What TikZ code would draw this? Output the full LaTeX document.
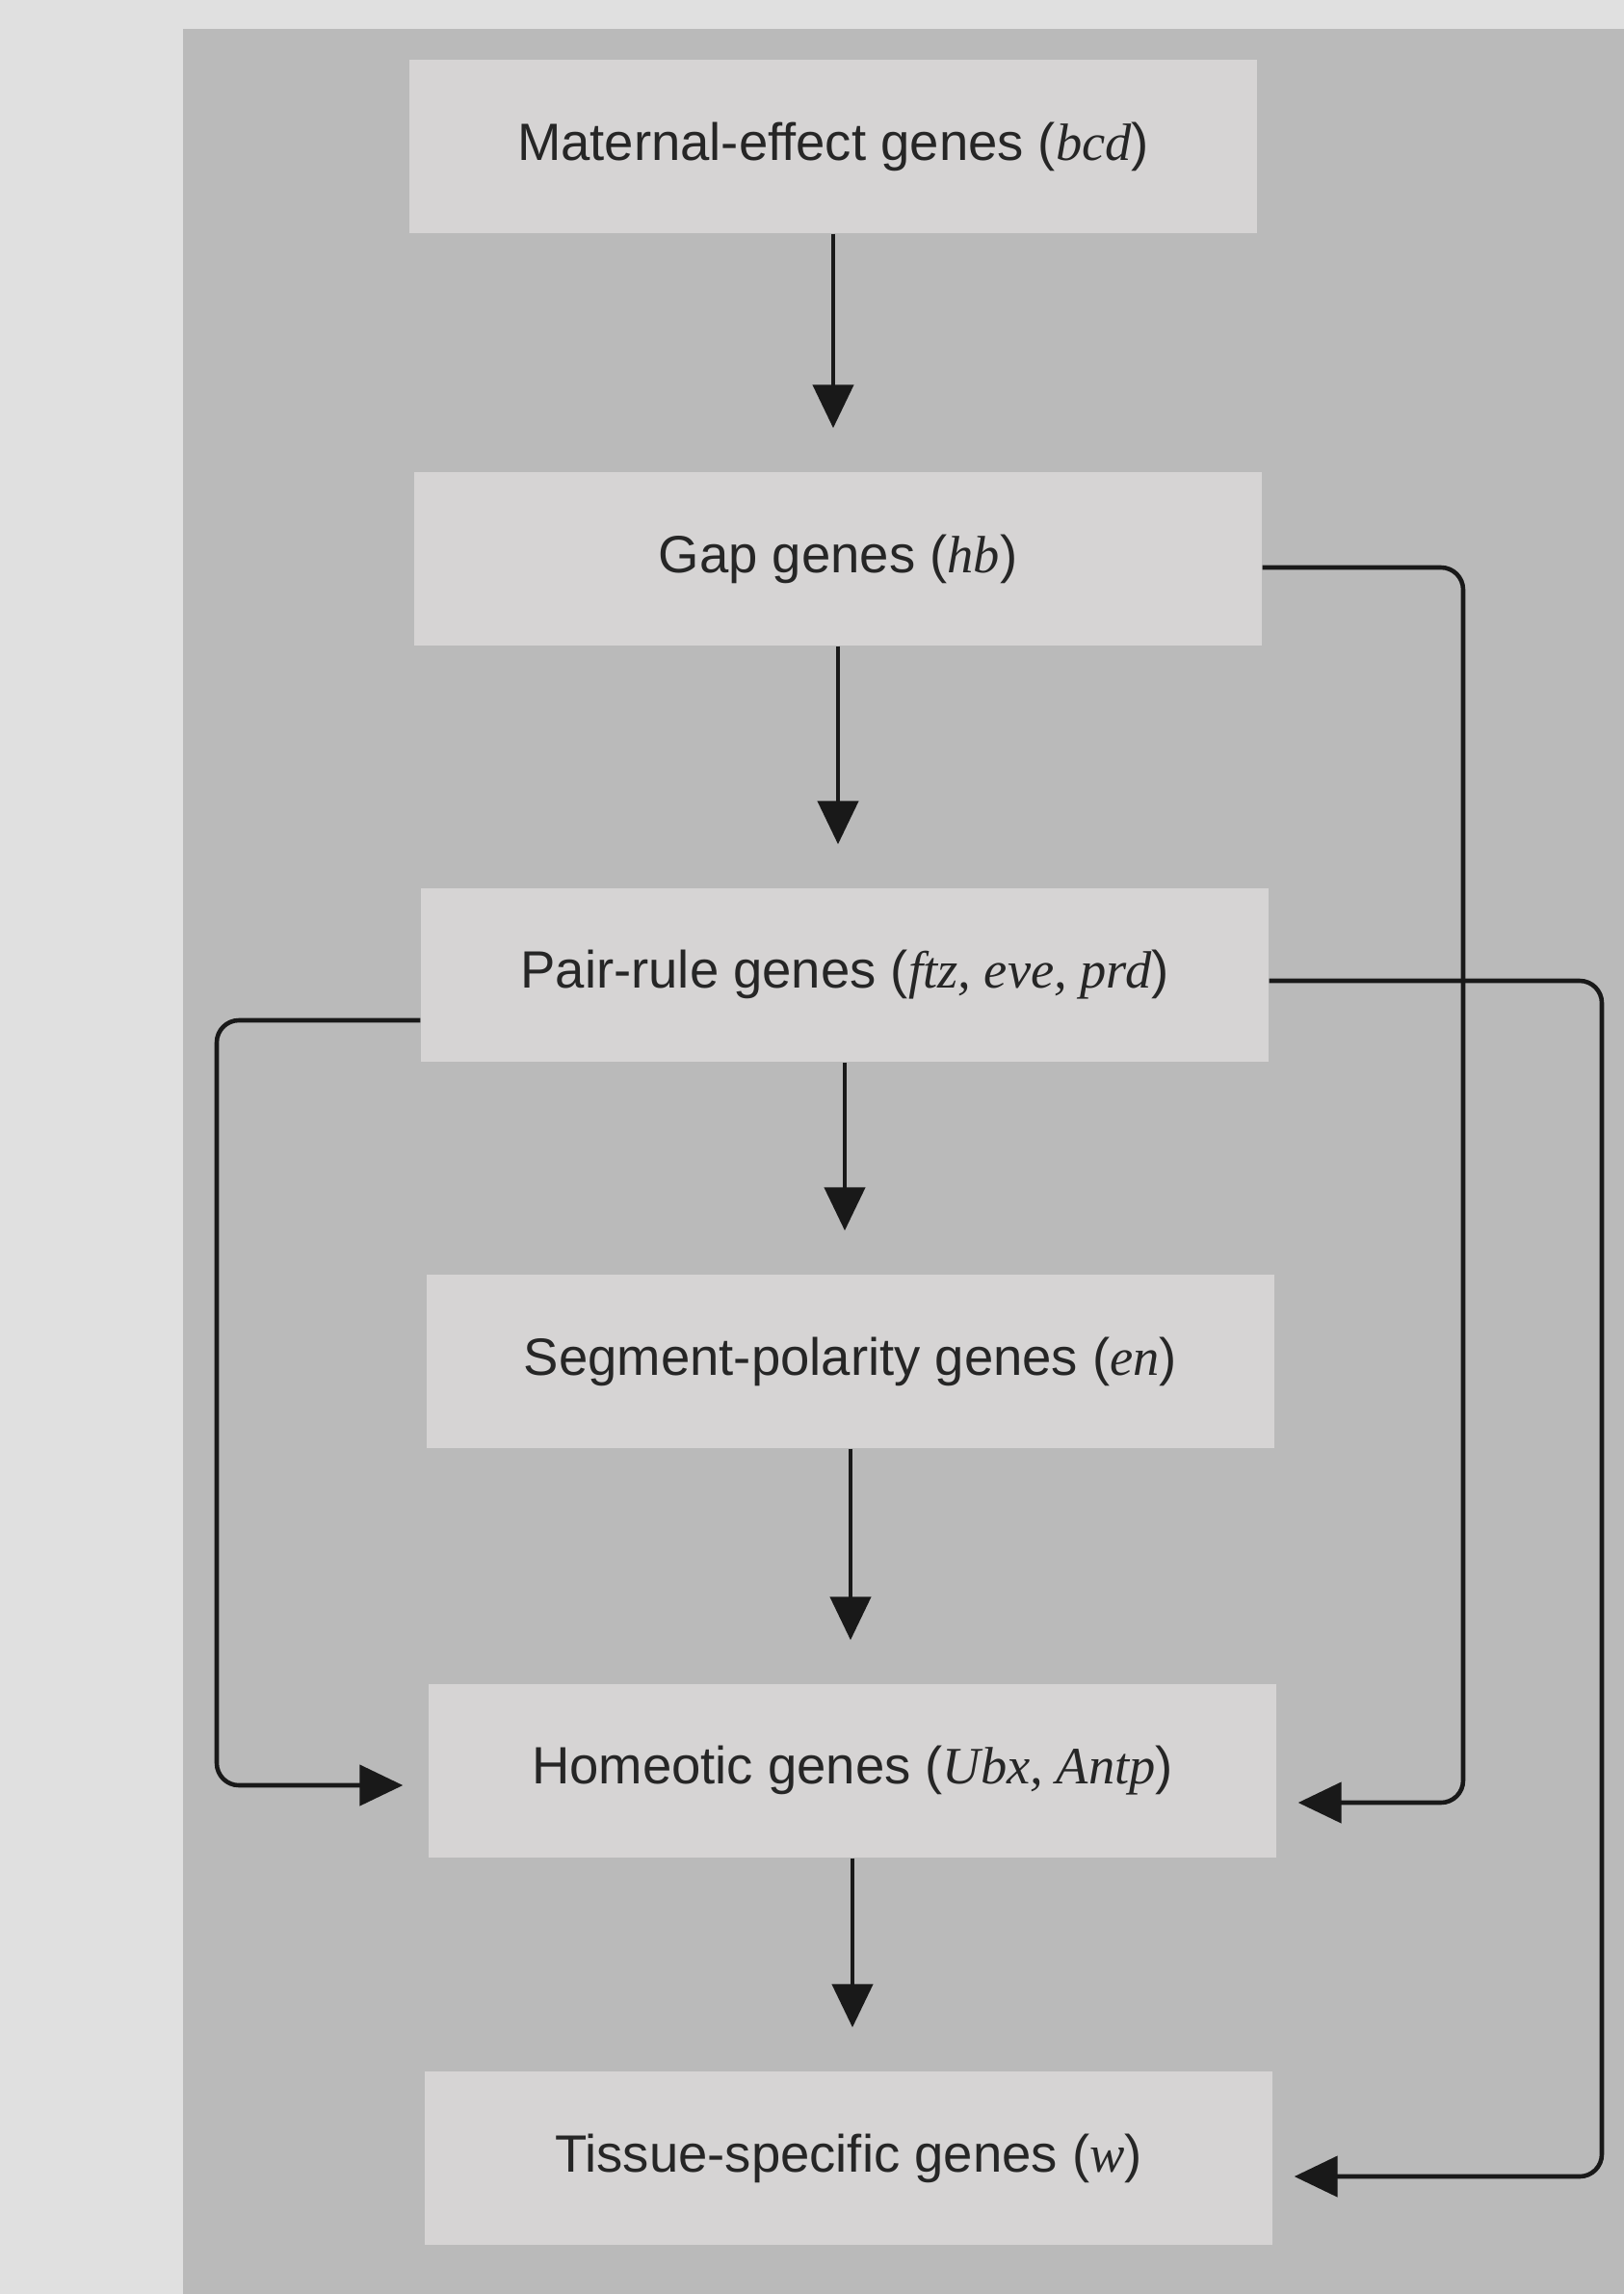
\documentclass[tikz,border=0pt]{standalone}
\usepackage{fontspec}
\setmainfont{Liberation Sans}
\newfontfamily\genefont{Liberation Serif}
\usetikzlibrary{arrows.meta}
\definecolor{pagegray}{RGB}{224,224,224}
\definecolor{panelgray}{RGB}{186,186,186}
\definecolor{boxgray}{RGB}{214,212,212}
\newcommand{\gn}[1]{{\genefont\itshape #1}}

\begin{document}
\begin{tikzpicture}[
    genebox/.style={fill=boxgray, text=black!85, minimum width=8.8cm, minimum height=1.8cm, font=\fontsize{15.5}{18}\selectfont},
    flow/.style={line width=1.3pt, draw=black!90, -{Triangle[length=0.45cm,width=0.42cm]}},
    link/.style={flow, rounded corners=0.23cm}]
  \useasboundingbox (0,0) rectangle (16.86,-23.81);
  \fill[pagegray] (0,0) rectangle (16.86,-23.81);
  \fill[panelgray] (1.9,-0.3) rectangle (16.86,-23.81);

  \node[genebox] (maternal) at (8.65,-1.52) {Maternal-effect genes (\gn{bcd})};
  \node[genebox] (gap) at (8.70,-5.80) {Gap genes (\gn{hb})};
  \node[genebox] (pairrule) at (8.77,-10.12) {Pair-rule genes (\gn{ftz, eve, prd})};
  \node[genebox] (segpol) at (8.83,-14.13) {Segment-polarity genes (\gn{en})};
  \node[genebox] (homeotic) at (8.85,-18.38) {Homeotic genes (\gn{Ubx, Antp})};
  \node[genebox] (tissue) at (8.81,-22.40) {Tissue-specific genes (\gn{w})};

  \foreach \a/\b in {maternal/gap, gap/pairrule, pairrule/segpol, segpol/homeotic, homeotic/tissue} {
    \draw[flow, shorten >=0.45cm] (\a.south) -- (\a.south |- \b.north);
  }

  \coordinate (gapturn) at (15.19,-18.71);
  \coordinate (pairturn) at (16.63,-22.59);
  \coordinate (leftturn) at (2.25,-18.53);

  \draw[link] ([yshift=-0.09cm]gap.east) -| (gapturn) -- ([xshift=0.22cm]homeotic.east |- gapturn);
  \draw[link] ([yshift=-0.06cm]pairrule.east) -| (pairturn) -- ([xshift=0.22cm]tissue.east |- pairturn);
  \draw[link] ([yshift=-0.47cm]pairrule.west) -| (leftturn) -- ([xshift=-0.26cm]homeotic.west |- leftturn);
\end{tikzpicture}
\end{document}
